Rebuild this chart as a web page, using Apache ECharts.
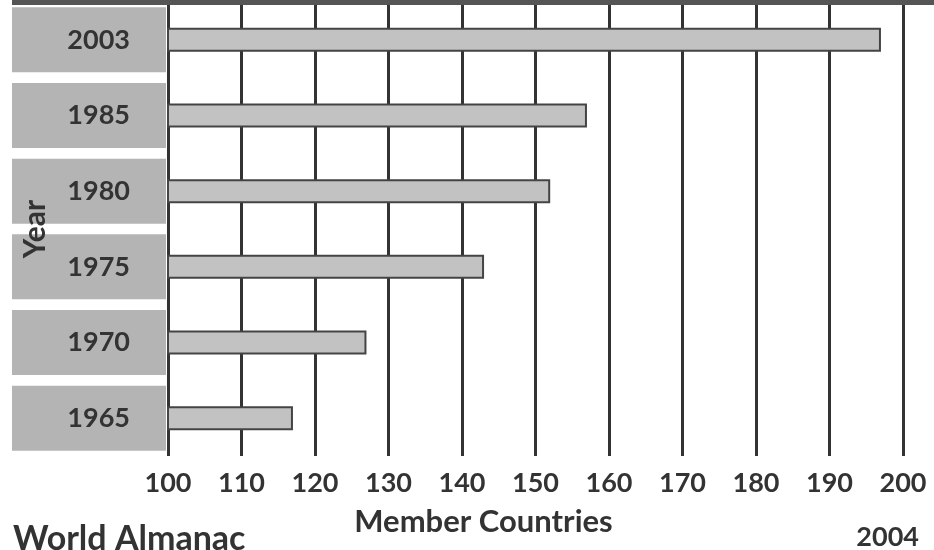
<!DOCTYPE html>
<html>
<head>
<meta charset="utf-8">
<title>Member Countries</title>
<script src="https://cdn.jsdelivr.net/npm/echarts@6/dist/echarts.min.js"></script>
<style>
  html, body { margin: 0; padding: 0; background: #fff; }
  #chart { width: 934px; height: 550px; }
</style>
</head>
<body>
<div id="chart"></div>
<script>
// Years listed top to bottom, with member counts for each
const years = ['2003', '1985', '1980', '1975', '1970', '1965'];
const members = [197, 157, 152, 143, 127, 117];
const xTicks = [100, 110, 120, 130, 140, 150, 160, 170, 180, 190, 200];
// Shaded panels behind the year labels, one per year
const panelFill = years.map(() => 1);

const FONT = 'Lato, "Open Sans", sans-serif';
const INK = '#333';

const chart = echarts.init(document.getElementById('chart'), null, { renderer: 'canvas' });

chart.setOption({
  backgroundColor: '#fff',
  animation: false,
  title: [
    {
      text: 'World Almanac', left: 8, top: 517,
      textStyle: { fontFamily: FONT, fontWeight: 'bold', fontSize: 34, color: INK }
    },
    {
      text: '2004', right: 10, top: 519,
      textStyle: { fontFamily: FONT, fontWeight: 'bold', fontSize: 27, color: INK }
    }
  ],
  graphic: [
    { type: 'rect', shape: { x: 12, y: 0, width: 922, height: 5 }, style: { fill: '#555' }, z: 10 }
  ],
  grid: [
    { left: 168, right: 31, top: 2, bottom: 94 },
    { left: 12, width: 154, top: 2, bottom: 94 }
  ],
  xAxis: [
    {
      gridIndex: 0, type: 'value', min: xTicks[0], max: xTicks[xTicks.length - 1], interval: 10,
      axisLine: { show: false },
      axisTick: { show: false },
      splitLine: { show: true, lineStyle: { color: INK, width: 3 } },
      axisLabel: {
        margin: 14, fontFamily: FONT, fontWeight: 'bold', fontSize: 27, color: INK,
        customValues: xTicks
      },
      name: 'Member Countries', nameLocation: 'middle', nameGap: 50,
      nameTextStyle: {
        fontFamily: FONT, fontWeight: 'bold', fontSize: 31, color: INK,
        padding: [0, 104, 0, 0]
      }
    },
    {
      gridIndex: 1, type: 'value', min: 0, max: 1, show: false
    }
  ],
  yAxis: [
    {
      gridIndex: 0, type: 'category', data: years, inverse: true,
      axisLine: { show: false }, axisTick: { show: false }, axisLabel: { show: false },
      splitLine: { show: false }
    },
    {
      gridIndex: 1, type: 'category', data: years, inverse: true, z: 20,
      axisLine: { show: false }, axisTick: { show: false }, axisLabel: { show: false },
      splitLine: { show: false },
      name: 'Year', nameLocation: 'middle', nameGap: -38,
      nameTextStyle: { fontFamily: FONT, fontWeight: 'bold', fontSize: 30, color: INK }
    }
  ],
  series: [
    {
      type: 'bar', xAxisIndex: 1, yAxisIndex: 1, data: panelFill,
      barWidth: 65, silent: true,
      itemStyle: { color: '#b4b4b4' },
      label: {
        show: true, position: 'insideRight', distance: 36,
        formatter: (p) => years[p.dataIndex],
        fontFamily: FONT, fontWeight: 'bold', fontSize: 27, color: INK
      }
    },
    {
      type: 'bar', xAxisIndex: 0, yAxisIndex: 0, data: members,
      barWidth: 24,
      itemStyle: { color: '#c2c2c2', borderColor: '#444', borderWidth: 2 }
    }
  ]
});
</script>
</body>
</html>
